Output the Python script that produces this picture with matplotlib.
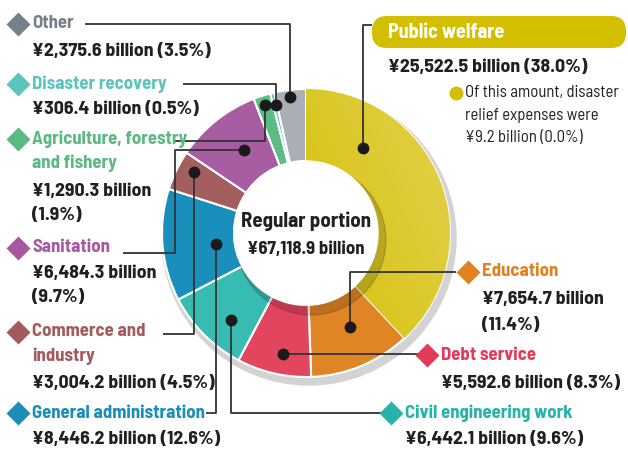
import matplotlib
matplotlib.use("Agg")
import numpy as np
import matplotlib.pyplot as plt
from matplotlib.patches import Circle, FancyBboxPatch
from matplotlib.colors import LinearSegmentedColormap
from matplotlib import font_manager as fm

# ---------------- data ----------------
categories = ["Public welfare", "Education", "Debt service", "Civil engineering work",
              "General administration", "Commerce and\nindustry", "Sanitation",
              "Agriculture, forestry\nand fishery", "Disaster recovery", "Other"]
values = [25522.5, 7654.7, 5592.6, 6442.1, 8446.2, 3004.2, 6484.3, 1290.3, 306.4, 2375.6]
percents = [38.0, 11.4, 8.3, 9.6, 12.6, 4.5, 9.7, 1.9, 0.5, 3.5]
total_label = "¥67,118.9 billion"
center_title = "Regular portion"
note_lines = ["Of this amount, disaster", "relief expenses were", "¥9.2 billion (0.0%)"]

colors = ["#D8C300", "#E08526", "#E2465F", "#38BBB1", "#1A8FBB",
          "#A35F60", "#A85CA1", "#5DBB86", "#5DC6BE", "#A9AFB5"]
label_colors = ["#FFFFFF", "#E08220", "#E23A58", "#25B4A9", "#1A8DB9",
                "#A35B5C", "#A658A0", "#5BB981", "#5CC4BC", "#76808A"]

avail = {f.name for f in fm.fontManager.ttflist}
FONT = "Barlow Semi Condensed" if "Barlow Semi Condensed" in avail else "DejaVu Sans"
plt.rcParams["font.family"] = [FONT, "DejaVu Sans"]

W, H = 628, 450
fig = plt.figure(figsize=(W / 100, H / 100), dpi=100)
ax = fig.add_axes([0, 0, 1, 1])

def Y(y):
    return H - y

CX, CY, R, RI = 306, 233, 144, 72
TXT = "#231F20"
LINE = "#333333"

# outer shadow
ax.add_patch(Circle((CX + 3, Y(CY + 5)), R + 3, color="#D3D3D3", zorder=1))
wedges, _ = ax.pie(values, colors=colors, center=(CX, Y(CY)), radius=R, startangle=90,
                   counterclock=False, frame=True,
                   wedgeprops=dict(width=R - RI, edgecolor="white", linewidth=1.5, zorder=2))
# subtle gradient on the large yellow wedge
cmap = LinearSegmentedColormap.from_list("yl", ["#D5BD00", "#DCC82A", "#E2D24E"])
gy, gx = np.mgrid[0:1:200j, 0:1:200j]
grad = 0.55 * gx + 0.45 * gy
img = ax.imshow(grad, cmap=cmap, extent=[CX, CX + R, Y(CY + R), Y(CY - R)],
                origin="lower", zorder=2.1, interpolation="bilinear")
img.set_clip_path(wedges[0])
ax.set_xlim(0, W)
ax.set_ylim(0, H)
ax.set_aspect("equal")
ax.axis("off")
# inner shadow + hole
ax.add_patch(Circle((CX + 5, Y(CY + 7)), RI + 3, color="black", alpha=0.16, zorder=3))
ax.add_patch(Circle((CX, Y(CY)), RI, color="white", zorder=4))

ax.text(CX, Y(221), center_title, ha="center", va="center", fontsize=15,
        fontweight="bold", color=TXT, zorder=6)
ax.text(CX, Y(250), total_label, ha="center", va="center", fontsize=13.5,
        fontweight="bold", color=TXT, zorder=6)

def vtext(v, p):
    return f"¥{v:,.1f} billion ({p:.1f}%)"

def line(pts):
    xs = [p[0] for p in pts]
    ys = [Y(p[1]) for p in pts]
    ax.plot(xs, ys, color=LINE, lw=1.3, zorder=7, solid_capstyle="butt")
    ax.plot([xs[-1]], [ys[-1]], "o", color="#1a1a1a", ms=7.5, zorder=8)

def diamond(x, y, c):
    ax.plot([x], [Y(y)], "D", color=c, ms=12.5, mec="none", zorder=8)

LFS = 13.5
VFS = 14.3

def label(i, x, ys, vlines, vy):
    diamond(x - 14, ys[0], label_colors[i])
    for s, y in zip(categories[i].split("\n"), ys):
        ax.text(x, Y(y), s, ha="left", va="center", fontsize=LFS, fontweight="bold",
                color=label_colors[i], zorder=8)
    for k, s in enumerate(vlines):
        ax.text(x, Y(vy + k * 25), s, ha="left", va="center", fontsize=VFS,
                fontweight="bold", color=TXT, zorder=8)

# Public welfare box
ax.add_patch(FancyBboxPatch((372, Y(48)), 254, 32,
                            boxstyle="round,pad=0,rounding_size=15",
                            fc="#D4BE00", ec="none", zorder=7))
ax.text(388, Y(32), categories[0], ha="left", va="center", fontsize=14.5,
        fontweight="bold", color="white", zorder=8)
ax.text(388, Y(67), vtext(values[0], percents[0]), ha="left", va="center",
        fontsize=VFS, fontweight="bold", color=TXT, zorder=8)
line([(372, 25), (363, 25), (363, 148)])
ax.plot([456], [Y(93)], "o", color="#D4BE00", ms=9, zorder=8)
for k, s in enumerate(note_lines):
    ax.text(465, Y(93 + k * 22.5), s, ha="left", va="center", fontsize=12,
            color=TXT, zorder=8)

# Education
label(1, 482, [272], [f"¥{values[1]:,.1f} billion", f"({percents[1]:.1f}%)"], 300)
line([(456, 272), (350, 272), (350, 327)])
# Debt service
label(2, 441, [355], [vtext(values[2], percents[2])], 383)
line([(418, 354), (283, 354)])
# Civil engineering
label(3, 405, [413], [vtext(values[3], percents[3])], 440)
line([(382, 413), (231, 413), (231, 320)])
# General administration
label(4, 32, [413], [vtext(values[4], percents[4])], 440)
line([(206, 413), (216, 413), (216, 244)])
# Commerce
label(5, 32, [332, 356], [vtext(values[5], percents[5])], 383)
line([(163, 334), (194, 334), (194, 172)])
# Sanitation
label(6, 32, [248], [f"¥{values[6]:,.1f} billion", f"({percents[6]:.1f}%)"], 273)
line([(123, 253), (175, 253), (175, 150), (244, 150)])
# Agriculture
label(7, 32, [139, 163], [f"¥{values[7]:,.1f} billion", f"({percents[7]:.1f}%)"], 191)
line([(174, 141), (265, 141), (265, 105)])
# Disaster recovery
label(8, 32, [84], [vtext(values[8], percents[8])], 110)
line([(183, 84), (276, 84), (276, 105)])
# Other
label(9, 32, [24], [vtext(values[9], percents[9])], 52)
line([(85, 24), (290, 24), (290, 97)])

fig.savefig("out.png", dpi=100)
